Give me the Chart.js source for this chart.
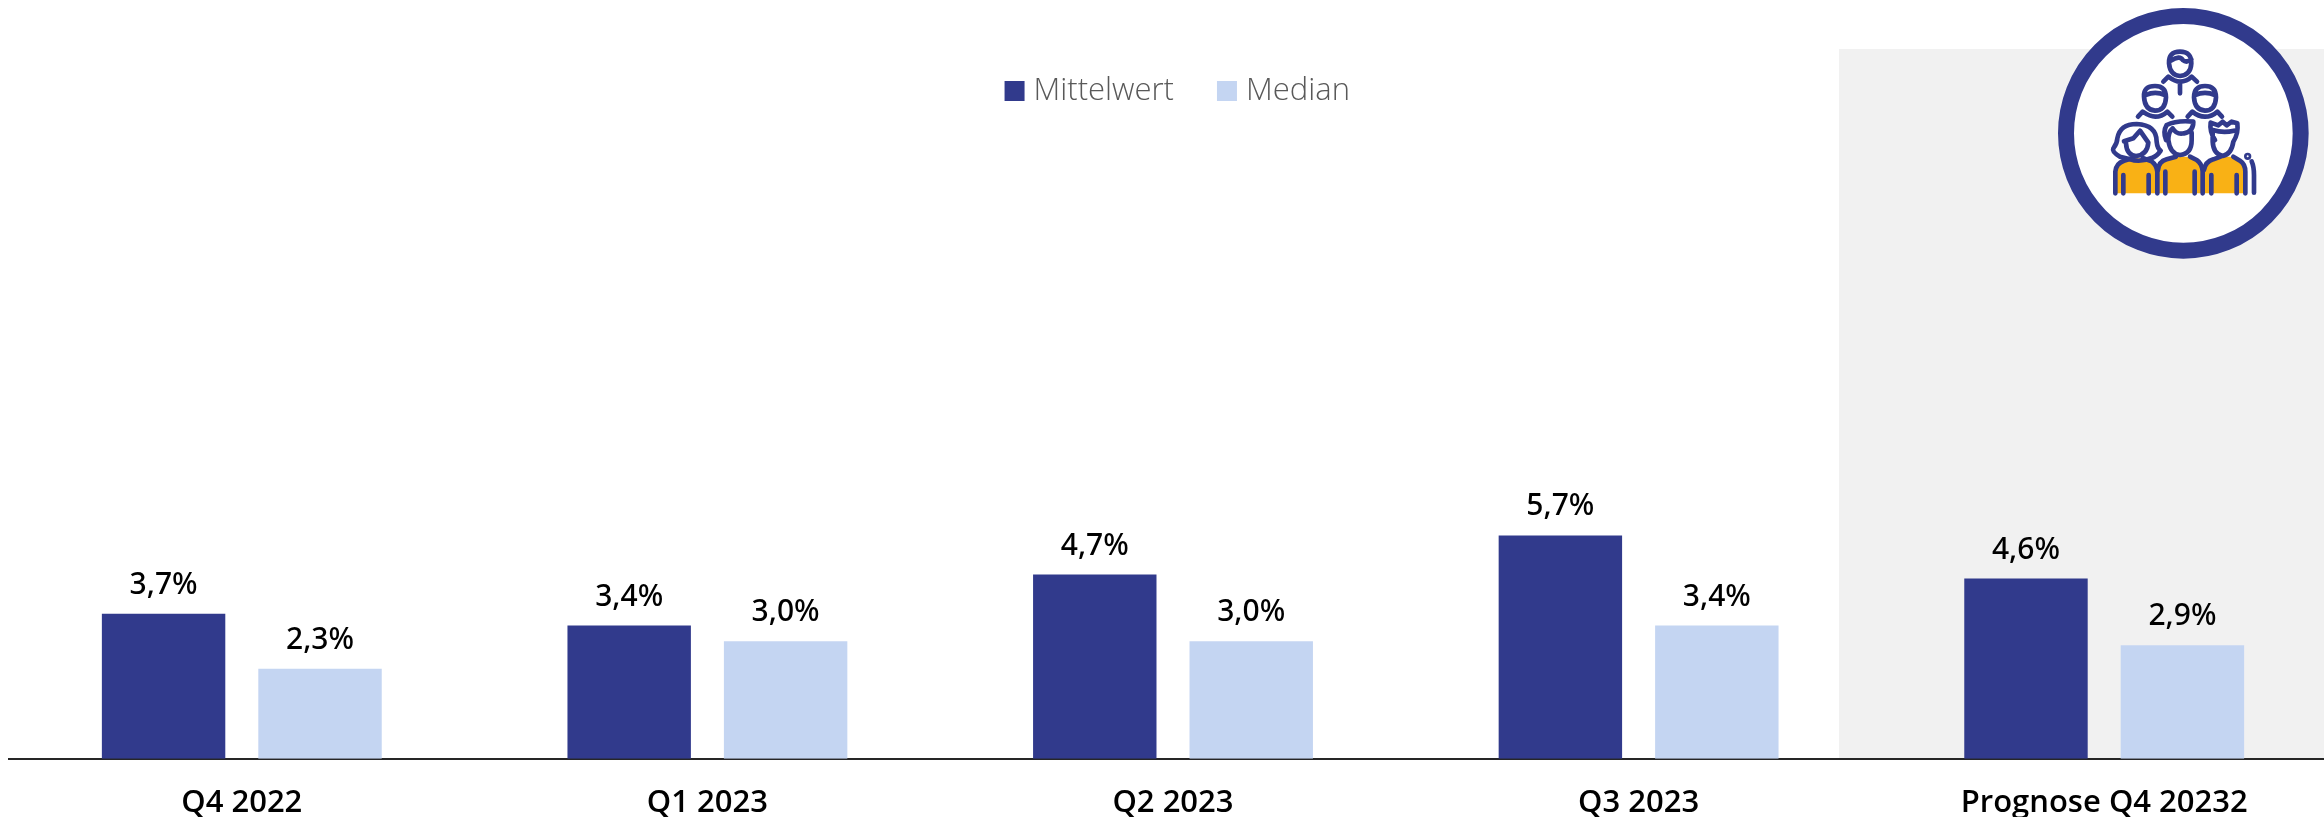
<!DOCTYPE html>
<html lang="de">
<head>
<meta charset="utf-8">
<title>Mittelwert und Median</title>
<script src="https://cdn.jsdelivr.net/npm/chart.js@4"></script>
<style>
html,body{margin:0;padding:0;background:#fff;width:2324px;height:817px;overflow:hidden}
#wrap{position:relative;width:2324px;height:817px;overflow:hidden}
#panel{position:absolute;left:1839px;top:49px;width:485px;height:710px;background:#f1f1f1}
canvas{position:absolute;left:0;top:0}
#icon{position:absolute;left:2000px;top:0;width:324px;height:270px}
</style>
</head>
<body>
<div id="wrap">
<div id="panel"></div>
<canvas id="c" width="2382" height="848"></canvas>
<svg id="icon" viewBox="0 0 972 810" fill="none" stroke="#313a8c" stroke-width="14" stroke-linecap="round" stroke-linejoin="round">
<circle cx="550" cy="400" r="352" fill="#fff" stroke-width="48"/>
<path d="M346 580V515Q346 490 372 482L405 472Q410 478 438 472L462 490L472 520V580Z" fill="#f9b115" stroke="none"/>
<path d="M474 580V510Q476 485 500 478L535 470H560L590 480Q606 490 608 515V580Z" fill="#f9b115" stroke="none"/>
<path d="M612 580V510Q616 485 640 478L670 470H695L720 482Q736 492 736 515V580Z" fill="#f9b115" stroke="none"/>
<path d="M346 580V515Q348 490 372 482L398 474M370 525V580M446 525V580M472 580V515Q470 495 455 484L428 474"/>
<path d="M474 510Q476 485 500 478L528 470M570 470L590 480Q606 490 608 515V580M496 515V580M584 515V580"/>
<path d="M612 510Q616 485 640 478L662 470M700 470L720 482Q736 492 736 515V580M634 525V580M710 525V580"/>
<path d="M755 484Q762 500 762 525V578"/><circle cx="743" cy="469" r="4"/>
<path d="M360 470Q335 455 340 445Q352 430 352 415Q360 372 410 372Q470 375 470 425Q472 445 482 452Q470 470 455 474Q420 488 390 478Z"/>
<path d="M372 424L400 415L420 392L445 428Q442 465 408 468Q380 465 378 430"/>
<path d="M498 420Q488 395 500 375Q530 360 580 365Q580 395 552 400Q530 405 518 385Q505 395 505 420Q510 462 540 465Q575 462 575 420V398"/>
<path d="M645 420Q628 395 632 368L655 376L668 365L680 376L695 365L712 370Q716 400 700 425Q695 462 668 468Q640 462 638 425V390Q670 400 702 392"/>
<path d="M507 190Q505 155 540 155Q575 155 574 190Q572 225 540 228Q510 225 507 190ZM512 182Q540 165 548 180Q560 190 574 178"/>
<path d="M490 245L505 230Q525 245 540 245Q560 245 575 230L591 245M540 250V280"/>
<path d="M432 290Q430 258 465 258Q498 258 498 292Q496 332 465 332Q434 330 432 290ZM438 285Q465 272 495 285"/>
<path d="M414 350L428 335Q450 350 466 350Q485 350 502 335L517 350"/>
<path d="M582 292Q582 258 615 258Q648 258 648 292Q646 332 615 332Q584 330 582 292ZM585 285Q615 272 645 285"/>
<path d="M563 350L577 335Q595 350 615 350Q635 350 652 335L666 350"/>
</svg>
</div>
<script>
const categories = ["Q4 2022", "Q1 2023", "Q2 2023", "Q3 2023", "Prognose Q4 20232"];
const seriesNames = ["Mittelwert", "Median"];
const mittelwert = [3.7, 3.4, 4.7, 5.7, 4.6];
const median = [2.3, 3.0, 3.0, 3.4, 2.9];
const colorMittelwert = "#313a8c";
const colorMedian = "#c4d5f2";
const FONT = '"Open Sans", "Noto Sans", sans-serif';

const valueLabels = {
  id: "valueLabels",
  afterDatasetsDraw(chart) {
    const ctx = chart.ctx;
    ctx.save();
    ctx.font = '500 30px "Noto Sans", sans-serif';
    ctx.fillStyle = "#000";
    ctx.textAlign = "center";
    ctx.textBaseline = "alphabetic";
    chart.data.datasets.forEach((ds, i) => {
      chart.getDatasetMeta(i).data.forEach((bar, j) => {
        ctx.fillText(ds.data[j].toFixed(1).replace(".", ",") + "%", bar.x, bar.y - 20);
      });
    });
    ctx.restore();
  }
};

const legendNudge = {
  id: "legendNudge",
  afterLayout(chart) {
    chart.legend.left += 7.5;
    chart.legend.right += 7.5;
  }
};

new Chart(document.getElementById("c"), {
  type: "bar",
  data: {
    labels: categories,
    datasets: [
      { label: seriesNames[0], data: mittelwert, backgroundColor: colorMittelwert, borderWidth: 0 },
      { label: seriesNames[1], data: median, backgroundColor: colorMedian, borderWidth: 0 }
    ]
  },
  options: {
    responsive: false,
    animation: false,
    events: [],
    datasets: { bar: { categoryPercentage: 0.672, barPercentage: 0.789 } },
    layout: { padding: { left: 9, right: 45, top: 26, bottom: 0 } },
    plugins: {
      tooltip: { enabled: false },
      legend: {
        display: true,
        position: "top",
        labels: {
          usePointStyle: true,
          pointStyle: "rect",
          boxWidth: 7,
          boxHeight: 20,
          padding: 49.5,
          color: "#595959",
          font: { family: FONT, size: 31, weight: "300" }
        }
      }
    },
    scales: {
      y: { display: false, min: 0, max: 16.39, grid: { display: false } },
      x: {
        grid: { display: false, drawTicks: false },
        border: { display: true, color: "#262626", width: 2 },
        ticks: {
          color: "#000",
          padding: 26,
          maxRotation: 0,
          autoSkip: false,
          font: { family: FONT, size: 31, weight: "600" }
        }
      }
    }
  },
  plugins: [valueLabels, legendNudge]
});
</script>
</body>
</html>
